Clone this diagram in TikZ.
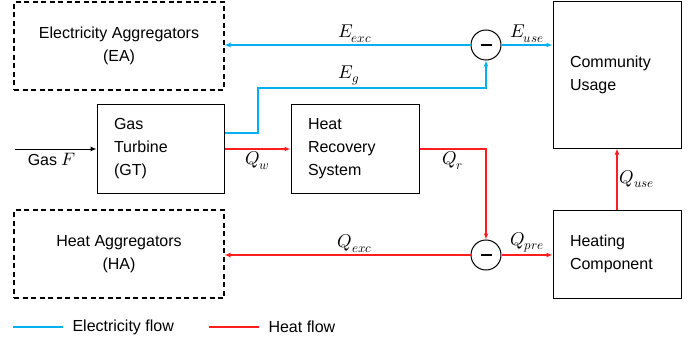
\documentclass[tikz,border=0pt]{standalone}
\usepackage{fontspec}
\usepackage{unicode-math}
\setmainfont{Liberation Sans}
\setmathfont{Latin Modern Math}
\usetikzlibrary{arrows.meta, positioning}
\definecolor{elecblue}{RGB}{0,176,240}
\definecolor{heatred}{RGB}{255,30,30}
\tikzset{
  box/.style={
    rectangle,
    draw,
    line width=1pt,
    align=left,
    inner xsep=17pt,
    font=\fontsize{16}{23}\selectfont
  },
  aggbox/.style={
    rectangle,
    draw,
    line width=1.1pt,
    dash pattern=on 5pt off 3.5pt,
    align=center,
    minimum width=210pt,
    minimum height=88pt,
    font=\fontsize{16}{23}\selectfont
  },
  sumnode/.style={
    circle,
    draw,
    line width=1pt,
    fill=white,
    inner sep=0pt,
    minimum size=30pt
  },
  elec/.style={-{Latex[length=6pt,width=5pt]}, line width=1.2pt, elecblue},
  heat/.style={-{Latex[length=6pt,width=5pt]}, line width=1.2pt, heatred},
  note/.style={font=\fontsize{16}{18}\selectfont, text=black},
  flowlabel/.style={font=\fontsize{18.5}{20}\selectfont, text=black, inner sep=2pt}
}

\begin{document}
\begin{tikzpicture}[x=1pt,y=-1pt]
\useasboundingbox (0,0) rectangle (697,345);
\node[aggbox] (ea) at (119,46) {Electricity Aggregators\\(EA)};
\node[aggbox] (ha) at (119,254) {Heat Aggregators\\(HA)};
\node[box, minimum width=127pt, minimum height=88pt, text width=93pt] (gt) at (160.5,149) {Gas\\Turbine\\(GT)};
\node[box, minimum width=128pt, minimum height=88pt, text width=94pt] (hrs) at (355,149) {Heat\\Recovery\\System};
\node[box, minimum width=128pt, minimum height=146pt, text width=94pt] (cu) at (617,75) {Community\\Usage};
\node[box, minimum width=128pt, minimum height=88pt, text width=94pt] (hc) at (617,254) {Heating\\Component};
\node[sumnode] (sume) at (486,45) {\rule{11pt}{2.8pt}};
\node[sumnode] (sumq) at (486,255) {\rule{11pt}{2.8pt}};
\coordinate (gasin) at (15,149);
\coordinate (egturn) at (258,88);

% gas input
\draw[-{Latex[length=6pt,width=5pt]}, line width=1pt] (gasin) -- node[note, below, pos=0.45] {Gas \fontsize{18}{20}\selectfont$F$} (gt.west);

% electricity
\draw[elec] ([yshift=16pt]gt.east) -| (egturn) -| node[flowlabel, above, pos=0.2] {$E_g$} (sume.south);
\draw[elec] (sume.west) -- node[flowlabel, above, pos=0.47] {$E_{exc}$} (ea.east |- sume.west);
\draw[elec] (sume.east) -- node[flowlabel, above] {$E_{use}$} (sume.east -| cu.west);

% heat
\draw[heat] (gt.east) -- node[flowlabel, below] {$Q_w$} (hrs.west);
\draw[heat] (hrs.east) -| node[flowlabel, below, pos=0.25] {$Q_r$} (sumq.north);
\draw[heat] (sumq.west) -- node[flowlabel, above, pos=0.47] {$Q_{exc}$} (sumq.west -| ha.east);
\draw[heat] (sumq.east) -- node[flowlabel, above] {$Q_{pre}$} (sumq.east -| hc.west);
\draw[heat] (hc.north) -- node[flowlabel, right] {$Q_{use}$} (cu.south);

% legend
\coordinate (elecA) at (13,327);
\coordinate (elecB) at (63,327);
\coordinate (heatA) at (209,327);
\coordinate (heatB) at (259,327);
\draw[line width=1.2pt, elecblue] (elecA) -- (elecB);
\draw[line width=1.2pt, heatred] (heatA) -- (heatB);
\node[note, right=6pt of elecB] (elecleg) {Electricity flow};
\node[note, right=6pt of heatB] (heatleg) {Heat flow};
\end{tikzpicture}
\end{document}
